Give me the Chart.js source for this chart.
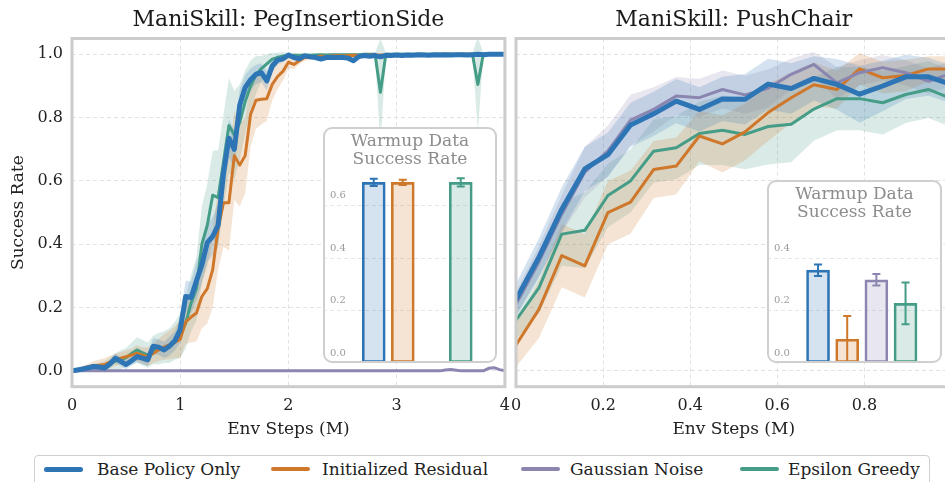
<!DOCTYPE html>
<html>
<head>
<meta charset="utf-8">
<script src="https://cdn.jsdelivr.net/npm/chart.js@4.4.1/dist/chart.umd.min.js"></script>
<style>
  html, body { margin: 0; padding: 0; background: #fff; overflow: hidden; }
  #wrap { position: relative; width: 945px; height: 482px; overflow: hidden; font-family: 'DejaVu Serif', serif; color: #222; }
  canvas { position: absolute; top: 0; }
  .inset { position: absolute; background: #fff; border-radius: 9px; overflow: hidden; }
  .inset canvas { left: 0; top: 0; }
  .inset-frame { position: absolute; border: 2px solid #cfcfcf; border-radius: 9px; box-sizing: border-box; pointer-events: none; }
  .inset-title { position: absolute; left: 0; right: 0; top: 4px; text-align: center; color: #8c8c8c; font-size: 17px; line-height: 18px; }
  #legendBox { position: absolute; left: 34px; top: 455px; width: 896px; height: 40px; border: 1.5px solid #cfcfcf; border-radius: 4px; box-sizing: border-box; }
  .lg-line { position: absolute; border-radius: 3px; }
  .lg-text { position: absolute; top: 459px; font-size: 17px; line-height: 20px; white-space: nowrap; }
</style>
</head>
<body>
<div id="wrap">
  <canvas id="chartLeft" width="520" height="450" style="left:0"></canvas>
  <canvas id="chartRight" width="470" height="450" style="left:500px"></canvas>

  <div class="inset" style="left:323px;top:127px;width:174px;height:236px">
    <canvas id="insetLeft" width="174" height="236"></canvas>
    <div class="inset-title">Warmup Data<br>Success Rate</div>
  </div>
  <div class="inset-frame" style="left:323px;top:127px;width:174px;height:236px"></div>

  <div class="inset" style="left:767px;top:180px;width:175px;height:183px">
    <canvas id="insetRight" width="175" height="183"></canvas>
    <div class="inset-title">Warmup Data<br>Success Rate</div>
  </div>
  <div class="inset-frame" style="left:767px;top:180px;width:175px;height:183px"></div>

  <div id="legendBox"></div>
</div>

<script>
// series names and colours
const SERIES = ['Base Policy Only', 'Initialized Residual', 'Gaussian Noise', 'Epsilon Greedy'];
const COLORS = ['#2e75b6', '#cf772a', '#8a86b0', '#459d87'];
const LINE_WIDTHS = [5, 3, 3, 3];
const GRID = '#e2e2e2';

// ---- PegInsertionSide (x in M env steps) ----
const xLeft = [0,0.05,0.1,0.15,0.2,0.25,0.3,0.35,0.4,0.45,0.5,0.55,0.6,0.65,0.7,0.75,0.8,0.85,0.9,0.95,
  1,1.05,1.1,1.15,1.2,1.25,1.3,1.35,1.4,1.45,1.5,1.55,1.6,1.65,1.7,1.75,1.8,1.85,1.9,1.95,
  2,2.05,2.1,2.15,2.2,2.25,2.3,2.35,2.4,2.45,2.5,2.55,2.6,2.65,2.7,2.75,2.8,2.85,2.9,2.95,
  3,3.05,3.1,3.15,3.2,3.25,3.3,3.35,3.4,3.45,3.5,3.55,3.6,3.65,3.7,3.75,3.8,3.85,3.9,3.95,4];

const pegBase = [0,0.003,0.006,0.01,0.014,0.012,0.009,0.022,0.04,0.03,
  0.02,0.032,0.045,0.04,0.035,0.078,0.075,0.066,0.078,0.095,
  0.13,0.235,0.232,0.285,0.335,0.405,0.425,0.46,0.625,0.735,
  0.7,0.84,0.895,0.92,0.937,0.942,0.916,0.963,0.982,0.986,
  0.998,0.99,0.986,0.995,0.992,0.99,0.985,0.99,0.99,0.99,
  0.99,0.988,0.98,0.993,0.996,0.994,0.996,0.992,0.997,0.996,
  0.998,0.996,0.998,0.997,0.999,0.998,0.997,0.999,0.998,0.999,
  0.998,0.999,0.999,0.998,0.999,1,0.999,1,1,1,1];
const pegResidual = [0,0.003,0.008,0.012,0.016,0.018,0.02,0.028,0.035,0.04,
  0.045,0.05,0.056,0.05,0.045,0.055,0.066,0.075,0.082,0.09,
  0.1,0.155,0.17,0.183,0.235,0.26,0.32,0.45,0.531,0.531,
  0.68,0.65,0.68,0.81,0.855,0.858,0.86,0.905,0.93,0.947,
  0.975,0.968,0.98,0.99,0.99,0.992,0.994,0.993,0.995,0.996,
  0.995,0.996,0.997,0.996,0.997,0.998,0.997,0.998,0.998,0.999,
  0.999,0.999,0.998,0.999,0.999,1,0.999,0.999,1,1,
  1,0.999,1,1,1,1,1,1,1,1,1];
const pegGaussian = [0,0,0,0,0,0,0,0,0,0,
  0,0,0,0,0,0,0,0,0,0,
  0,0,0,0,0,0,0,0,0,0,
  0,0,0,0,0,0,0,0,0,0,
  0,0,0,0,0,0,0,0,0,0,
  0,0,0,0,0,0,0,0,0,0,
  0,0,0,0,0,0,0,0,0,0.003,
  0.004,0.002,0,0,0,0,0,0.008,0.01,0.004,0];
const pegEpsilon = [0,0.003,0.006,0.01,0.013,0.014,0.016,0.022,0.03,0.035,
  0.042,0.055,0.066,0.058,0.05,0.066,0.07,0.075,0.08,0.095,
  0.112,0.15,0.214,0.26,0.4,0.46,0.555,0.547,0.66,0.775,
  0.745,0.785,0.85,0.9,0.935,0.955,0.97,0.985,0.99,0.995,
  0.995,0.997,0.996,0.998,0.997,0.998,0.999,0.998,0.999,0.999,
  0.999,0.999,0.999,0.999,1,1,1,0.88,1,1,
  1,1,1,1,1,1,1,1,1,1,
  1,1,1,1,1,0.905,1,1,1,1,1];

// half-width of the shaded band
const pegBaseSd = [0.002,0.004,0.005,0.006,0.008,0.01,0.01,0.012,0.015,0.015,
  0.015,0.015,0.018,0.02,0.02,0.025,0.025,0.025,0.03,0.03,
  0.04,0.05,0.05,0.06,0.06,0.06,0.06,0.07,0.07,0.06,
  0.06,0.05,0.04,0.035,0.03,0.03,0.03,0.02,0.015,0.01,
  0.008,0.008,0.008,0.006,0.006,0.006,0.006,0.006,0.005,0.005,
  0.005,0.005,0.006,0.005,0.005,0.005,0.005,0.005,0.004,0.004,
  0.004,0.004,0.004,0.004,0.004,0.004,0.004,0.004,0.004,0.004,
  0.004,0.004,0.004,0.004,0.004,0.004,0.004,0.004,0.004,0.004,0.004];
const pegResidualSd = [0.002,0.005,0.008,0.01,0.015,0.018,0.02,0.02,0.02,0.02,
  0.02,0.02,0.025,0.025,0.03,0.03,0.035,0.04,0.045,0.05,
  0.06,0.07,0.08,0.09,0.1,0.11,0.12,0.13,0.14,0.15,
  0.14,0.13,0.12,0.1,0.09,0.08,0.07,0.05,0.04,0.03,
  0.02,0.015,0.012,0.01,0.008,0.008,0.007,0.006,0.006,0.005,
  0.005,0.005,0.005,0.005,0.005,0.005,0.005,0.005,0.005,0.004,
  0.004,0.004,0.004,0.004,0.004,0.004,0.004,0.004,0.004,0.004,
  0.004,0.004,0.004,0.004,0.004,0.004,0.004,0.004,0.004,0.004,0.004];
const pegEpsilonSd = [0.002,0.004,0.006,0.008,0.01,0.012,0.015,0.02,0.025,0.03,
  0.03,0.035,0.04,0.04,0.04,0.045,0.05,0.05,0.055,0.06,
  0.07,0.08,0.09,0.1,0.12,0.13,0.14,0.15,0.15,0.15,
  0.14,0.12,0.1,0.08,0.06,0.04,0.03,0.02,0.015,0.012,
  0.01,0.008,0.008,0.007,0.006,0.006,0.005,0.005,0.005,0.005,
  0.005,0.005,0.005,0.005,0.005,0.005,0.005,0.17,0.005,0.005,
  0.005,0.005,0.005,0.005,0.005,0.005,0.005,0.005,0.005,0.005,
  0.005,0.005,0.005,0.005,0.005,0.15,0.005,0.005,0.005,0.005,0.005];

// ---- PushChair ----
const xRight = [0,0.053,0.105,0.158,0.211,0.263,0.316,0.368,0.421,0.474,
  0.526,0.579,0.632,0.684,0.737,0.789,0.842,0.895,0.947,1];
const chairBase = [0.225,0.36,0.51,0.638,0.683,0.777,0.812,0.852,0.826,0.859,
  0.858,0.906,0.892,0.924,0.905,0.874,0.9,0.929,0.929,0.905];
const chairResidual = [0.082,0.195,0.364,0.332,0.5,0.533,0.636,0.647,0.742,0.717,
  0.755,0.816,0.863,0.904,0.889,0.954,0.926,0.933,0.954,0.954];
const chairGaussian = [0.21,0.345,0.495,0.628,0.695,0.792,0.826,0.868,0.863,0.889,
  0.872,0.893,0.937,0.968,0.91,0.942,0.958,0.942,0.915,0.94];
const chairEpsilon = [0.16,0.263,0.432,0.444,0.554,0.6,0.694,0.705,0.75,0.76,
  0.747,0.772,0.779,0.827,0.86,0.86,0.847,0.873,0.889,0.86];
const chairBaseSd = [0.05,0.06,0.07,0.07,0.07,0.07,0.07,0.07,0.07,0.07,
  0.08,0.08,0.08,0.07,0.08,0.09,0.08,0.07,0.06,0.06];
const chairResidualSd = [0.07,0.09,0.1,0.1,0.1,0.1,0.09,0.09,0.08,0.09,
  0.09,0.09,0.08,0.07,0.06,0.05,0.05,0.05,0.04,0.04];
const chairGaussianSd = [0.04,0.05,0.06,0.08,0.08,0.08,0.07,0.06,0.06,0.06,
  0.06,0.06,0.05,0.04,0.05,0.04,0.04,0.04,0.04,0.04];
const chairEpsilonSd = [0.06,0.08,0.1,0.12,0.1,0.1,0.1,0.1,0.1,0.11,
  0.11,0.12,0.12,0.1,0.1,0.1,0.1,0.09,0.09,0.09];

// ---- inset bars: warmup data success rate ----
const warmupPeg = [0.689, 0.689, 0.004, 0.689];
const warmupPegErr = [0.014, 0.01, 0, 0.016];
const warmupChair = [0.355, 0.091, 0.318, 0.228];
const warmupChairErr = [0.022, 0.089, 0.022, 0.08];

// ticks
const yTicks = [0, 0.2, 0.4, 0.6, 0.8, 1.0];
const xTicksLeft = [0, 1, 2, 3, 4];
const xTicksRight = [0, 0.2, 0.4, 0.6, 0.8];
const insetTicksPeg = [0, 0.2, 0.4, 0.6];
const insetTicksChair = [0, 0.2, 0.4];

Chart.defaults.font.family = "'DejaVu Serif', serif";
Chart.defaults.color = '#222';

function rgba(hex, a) {
  const n = parseInt(hex.slice(1), 16);
  return `rgba(${n >> 16},${(n >> 8) & 255},${n & 255},${a})`;
}

function pts(xs, ys) {
  return xs.map((x, i) => ({ x, y: ys[i] }));
}

function buildDatasets(xs, means, spreads) {
  const lines = [];
  const bands = [];
  // blue on top, then purple, orange, green
  const stack = [0, 2, 1, 3];
  stack.forEach((s, k) => {
    lines.push({
      data: pts(xs, means[s]),
      borderColor: COLORS[s],
      borderWidth: LINE_WIDTHS[s],
      borderJoinStyle: 'round',
      borderCapStyle: 'round',
      pointRadius: 0,
      fill: false,
      order: k,
    });
  });
  means.forEach((m, s) => {
    if (!spreads[s]) return;
    bands.push({
      data: pts(xs, m.map((v, i) => v + spreads[s][i])),
      borderWidth: 0, pointRadius: 0,
      backgroundColor: rgba(COLORS[s], 0.2),
      fill: '+1',
      order: 10 + s,
    });
    bands.push({
      data: pts(xs, m.map((v, i) => v - spreads[s][i])),
      borderWidth: 0, pointRadius: 0,
      fill: false,
      order: 10 + s,
    });
  });
  return lines.concat(bands);
}

const frame = {
  id: 'frame',
  afterDraw(chart) {
    const { ctx, chartArea: a } = chart;
    ctx.save();
    ctx.strokeStyle = '#cccccc';
    ctx.lineWidth = 3;
    ctx.strokeRect(a.left, a.top, a.right - a.left, a.bottom - a.top);
    ctx.restore();
  },
};

function renderMain(id, cfg) {
  new Chart(document.getElementById(id), {
    type: 'line',
    data: { datasets: buildDatasets(cfg.xs, cfg.means, cfg.spreads) },
    options: {
      responsive: false,
      animation: false,
      devicePixelRatio: 1,
      layout: { padding: { left: 0, right: cfg.padRight, top: 0, bottom: 0 } },
      elements: { line: { tension: 0 } },
      plugins: {
        legend: { display: false },
        tooltip: { enabled: false },
        title: {
          display: true,
          text: cfg.title,
          fullSize: false,
          color: '#1a1a1a',
          font: { size: 22, weight: 'normal', lineHeight: 1.2 },
          padding: { top: 7, bottom: 5.1 },
        },
      },
      scales: {
        x: {
          type: 'linear',
          min: cfg.xMin,
          max: cfg.xMax,
          afterBuildTicks: s => { s.ticks = cfg.xTicks.map(v => ({ value: v })); },
          afterFit: s => { s.height = 63.3; },
          ticks: { font: { size: 16 }, padding: 10, maxRotation: 0, callback: cfg.xFormat },
          grid: { color: GRID, lineWidth: 1, drawTicks: false },
          border: { display: false, dash: [4, 3] },
          title: { display: true, text: 'Env Steps (M)', font: { size: 17 }, padding: { top: 0, bottom: 10 } },
        },
        y: {
          min: -0.05,
          max: 1.05,
          afterBuildTicks: s => { s.ticks = yTicks.map(v => ({ value: v })); },
          afterFit: s => { s.width = cfg.yWidth; },
          ticks: { display: cfg.yLabels, font: { size: 16 }, padding: 9, callback: v => v.toFixed(1) },
          grid: { color: GRID, lineWidth: 1, drawTicks: false },
          border: { display: false, dash: [4, 3] },
          title: { display: cfg.yLabels, text: 'Success Rate', font: { size: 17 }, padding: { top: 8, bottom: 0 } },
        },
      },
    },
    plugins: [frame],
  });
}

const errorBars = {
  id: 'errorBars',
  afterDatasetsDraw(chart, args, opts) {
    const { ctx } = chart;
    const y = chart.scales.y;
    chart.getDatasetMeta(0).data.forEach((bar, i) => {
      const e = opts.errs[i];
      if (!e) return;
      const v = opts.values[i];
      const top = y.getPixelForValue(v + e);
      const bot = y.getPixelForValue(Math.max(0, v - e));
      ctx.save();
      ctx.strokeStyle = COLORS[i];
      ctx.lineWidth = 2;
      ctx.beginPath();
      ctx.moveTo(bar.x, top); ctx.lineTo(bar.x, bot);
      ctx.moveTo(bar.x - 4, top); ctx.lineTo(bar.x + 4, top);
      ctx.moveTo(bar.x - 4, bot); ctx.lineTo(bar.x + 4, bot);
      ctx.stroke();
      ctx.restore();
    });
  },
};

const insetLabels = {
  id: 'insetLabels',
  afterDraw(chart, args, opts) {
    const { ctx, chartArea } = chart;
    const y = chart.scales.y;
    ctx.save();
    ctx.fillStyle = '#9a9a9a';
    ctx.font = "10px 'DejaVu Serif', serif";
    ctx.textAlign = 'left';
    ctx.textBaseline = 'middle';
    opts.ticks.forEach(v => ctx.fillText(v.toFixed(1), chartArea.left + 7, y.getPixelForValue(v) - 10));
    ctx.restore();
  },
};

function renderInset(id, values, errs, yMax, ticks) {
  new Chart(document.getElementById(id), {
    type: 'bar',
    data: {
      datasets: [{
        data: values.map((v, i) => ({ x: i, y: v })),
        backgroundColor: COLORS.map(c => rgba(c, 0.2)),
        borderColor: COLORS,
        borderWidth: 2,
        borderSkipped: false,
        barThickness: 23,
      }],
    },
    options: {
      responsive: false,
      animation: false,
      devicePixelRatio: 1,
      layout: { padding: 0 },
      plugins: {
        legend: { display: false },
        tooltip: { enabled: false },
        errorBars: { values, errs },
        insetLabels: { ticks },
      },
      scales: {
        x: { type: 'linear', min: -1, max: 3.5, display: false },
        y: {
          min: 0,
          max: yMax,
          afterBuildTicks: s => { s.ticks = ticks.map(v => ({ value: v })); },
          afterFit: s => { s.width = 0; },
          ticks: { display: false },
          grid: { color: '#e6e6e6', drawTicks: false },
          border: { display: false, dash: [4, 3] },
        },
      },
    },
    plugins: [errorBars, insetLabels],
  });
}

function renderLegend() {
  const wrap = document.getElementById('wrap');
  const lineX = [44, 271, 521, 740];
  const textX = [97, 322, 570, 788];
  SERIES.forEach((name, i) => {
    const ln = document.createElement('div');
    ln.className = 'lg-line';
    const h = LINE_WIDTHS[i] === 5 ? 5 : 3.5;
    ln.style.cssText = `left:${lineX[i]}px;top:${469 - h / 2}px;width:39px;height:${h}px;background:${COLORS[i]}`;
    wrap.appendChild(ln);
    const tx = document.createElement('div');
    tx.className = 'lg-text';
    tx.style.left = textX[i] + 'px';
    tx.textContent = name;
    wrap.appendChild(tx);
  });
}

renderMain('chartLeft', {
  title: 'ManiSkill: PegInsertionSide',
  xs: xLeft,
  means: [pegBase, pegResidual, pegGaussian, pegEpsilon],
  spreads: [pegBaseSd, pegResidualSd, null, pegEpsilonSd],
  xMin: 0, xMax: 4, xTicks: xTicksLeft,
  xFormat: v => String(v),
  yWidth: 72, yLabels: true, padRight: 12,
});

renderMain('chartRight', {
  title: 'ManiSkill: PushChair',
  xs: xRight,
  means: [chairBase, chairResidual, chairGaussian, chairEpsilon],
  spreads: [chairBaseSd, chairResidualSd, chairGaussianSd, chairEpsilonSd],
  xMin: 0, xMax: 1, xTicks: xTicksRight,
  xFormat: v => (v === 0 ? '0' : v.toFixed(1)),
  yWidth: 16, yLabels: false, padRight: 18.5,
});

renderInset('insetLeft', warmupPeg, warmupPegErr, 0.9, insetTicksPeg);
renderInset('insetRight', warmupChair, warmupChairErr, 0.7, insetTicksChair);
renderLegend();
</script>
</body>
</html>
